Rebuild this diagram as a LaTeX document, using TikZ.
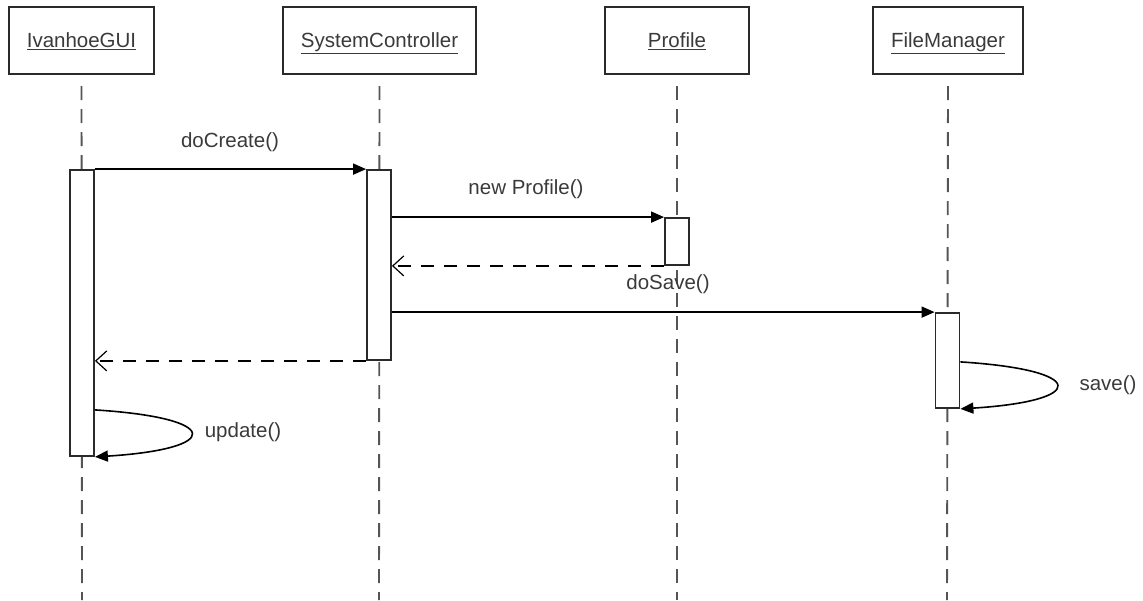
\documentclass[tikz,border=0pt]{standalone}
\usepackage{fontspec}
\setmainfont{Liberation Sans}
\usetikzlibrary{arrows.meta,calc}
\definecolor{txt}{HTML}{3A3A3A}
\definecolor{ln}{HTML}{2A2A2A}
\definecolor{lifec}{HTML}{555555}
\tikzset{
  objbox/.style={draw=ln, line width=2.3pt, minimum width=#1, minimum height=67pt, inner sep=0pt, text=txt, font=\fontsize{20.5pt}{24pt}\selectfont},
  actbox/.style={draw=ln, line width=1.8pt, fill=white, minimum width=24pt, minimum height=#1, inner sep=0pt},
  lifeline/.style={draw=lifec, line width=1.9pt, dash pattern=on 14pt off 9pt},
  callmsg/.style={draw=black, line width=1.6pt, -{Triangle[length=13pt,width=11pt]}},
  retmsg/.style={draw=black, line width=1.6pt, dash pattern=on 13pt off 10pt, -{Straight Barb[length=11pt,width=20pt,line width=1.2pt]}},
  lbl/.style={text=txt, font=\fontsize{20.5pt}{24pt}\selectfont, inner sep=0pt}
}
\begin{document}
\begin{tikzpicture}[x=1pt,y=-1pt]
\useasboundingbox (0,0) rectangle (1143,600);
% object headers
\node[objbox=145pt, text depth=-2pt] (gui) at (81.5,40.5) {\underline{IvanhoeGUI}};
\node[objbox=193pt, text depth=-2pt] (sc) at (379.5,40.5) {\underline{SystemController}};
\node[objbox=144pt, text depth=-2pt] (pr) at (677,40.5) {\underline{Profile}};
\node[objbox=150pt, text depth=-2pt] (fm) at (948,40.5) {\underline{FileManager}};
% lifeline ends
\coordinate (guiE) at (82,600);
\coordinate (scE) at (379,600);
\coordinate (prE) at (677,600);
\coordinate (fmE) at (947,600);
\draw[lifeline] ($(gui.south)+(0,11)$) -- (guiE);
\draw[lifeline] ($(sc.south)+(0,11)$) -- (scE);
\draw[lifeline] ($(pr.south)+(0,11)$) -- (prE);
\draw[lifeline] ($(fm.south)+(0,11)$) -- (fmE);
% activations
\node[actbox=286pt] (aG) at (82,313) {};
\node[actbox=190pt] (aS) at (379,265) {};
\node[actbox=47pt] (aP) at (677,241.5) {};
\node[actbox=95pt] (aF) at (947.5,360.5) {};
% messages
\draw[callmsg] (aG.north east) -- (aS.north west);
\node[lbl] (l1) at (230,142) {doCreate()};
\draw[callmsg] (aP.north west -| aS.east) -- (aP.north west);
\node[lbl] (l2) at (526,189) {new Profile()};
\draw[retmsg] (aP.south west) -- (aP.south west -| aS.east);
\node[lbl] (l3) at (668,284) {doSave()};
\draw[callmsg] (aF.north west -| aS.east) -- (aF.north west);
\draw[retmsg] (aS.south west) -- (aS.south west -| aG.east);
% self calls
\coordinate (u1) at ($(aG.south east)+(0,-47)$);
\draw[callmsg] (u1) .. controls +(128,8) and +(128,-8) .. (aG.south east);
\node[lbl] (l4) at (243,432) {update()};
\coordinate (s1) at ($(aF.south east)+(0,-47)$);
\draw[callmsg] (s1) .. controls +(128,8) and +(128,-8) .. (aF.south east);
\node[lbl] (l5) at (1108,385) {save()};
\end{tikzpicture}
\end{document}
